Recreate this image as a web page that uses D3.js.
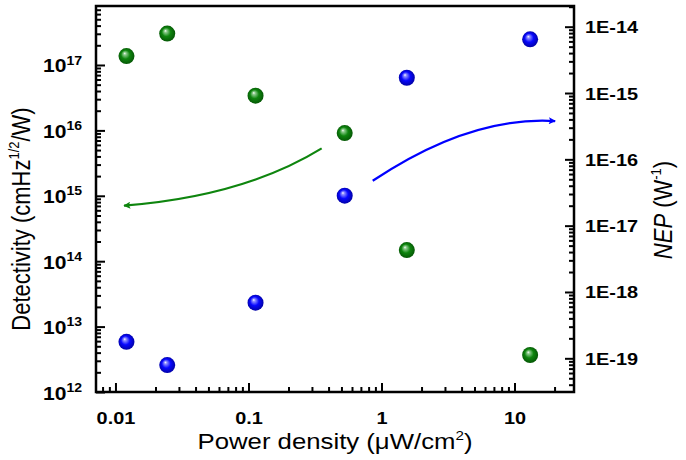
<!DOCTYPE html>
<html>
<head>
<meta charset="utf-8">
<script src="https://cdn.jsdelivr.net/npm/d3@7"></script>
<style>
  html, body { margin: 0; padding: 0; background: #fff; }
  svg { display: block; }
  text { font-family: "Liberation Sans", Arial, sans-serif; fill: #000; }
</style>
</head>
<body>
<script>
// ---------------- data ----------------
const power       = [0.0121, 0.0245, 0.113, 0.529, 1.55, 13.1];          // µW/cm²
const detectivity = [1.37e17, 3.02e17, 3.4e16, 9.1e15, 1.48e14, 3.68e12]; // cmHz^1/2/W
const nep         = [1.77e-19, 7.9e-20, 6.9e-19, 2.83e-17, 1.70e-15, 6.45e-15]; // W^-1

const xTickValues = [0.01, 0.1, 1, 10];
const xTickLabels = ["0.01", "0.1", "1", "10"];
const yLeftTickValues = [1e12, 1e13, 1e14, 1e15, 1e16, 1e17];
const yLeftTickExps   = ["12", "13", "14", "15", "16", "17"];
const yRightTickValues = [1e-19, 1e-18, 1e-17, 1e-16, 1e-15, 1e-14];
const yRightTickLabels = ["1E-19", "1E-18", "1E-17", "1E-16", "1E-15", "1E-14"];

// arrow annotations: start, control, end (data coords)
const greenArrow = [[0.355, 5.3e15], [0.0922, 9.8e14], [0.0116, 7.06e14]];  // left axis
const blueArrow  = [[0.859, 4.75e-17], [4.6, 4.54e-16], [20.2, 3.78e-16]];  // right axis

// ---------------- layout ----------------
const W = 686, H = 460;
const L = 96, R = 574, T = 6, B = 392;
const SX = 1.17; // horizontal glyph stretch of the original image

const x  = d3.scaleLog().domain([0.00714, 28.0]).range([L, R]);
const yL = d3.scaleLog().domain([1e12, Math.pow(10, 17.902)]).range([B, T]);
const yR = d3.scaleLog().domain([Math.pow(10, -19.508), Math.pow(10, -13.688)]).range([B, T]);

const svg = d3.select("body").append("svg").attr("width", W).attr("height", H);

const defs = svg.append("defs");
function sphereGrad(id, light, base, dark) {
  const g = defs.append("radialGradient").attr("id", id)
    .attr("cx", "0.5").attr("cy", "0.5").attr("r", "0.55")
    .attr("fx", "0.38").attr("fy", "0.32");
  g.append("stop").attr("offset", "0%").attr("stop-color", "#ffffff");
  g.append("stop").attr("offset", "15%").attr("stop-color", light);
  g.append("stop").attr("offset", "50%").attr("stop-color", base);
  g.append("stop").attr("offset", "100%").attr("stop-color", dark);
}
sphereGrad("gGreen", "#8fcc8f", "#0e850e", "#045004");
sphereGrad("gBlue", "#9090ff", "#0808ff", "#000098");

function marker(id, color) {
  defs.append("marker").attr("id", id)
    .attr("viewBox", "0 0 10 10").attr("refX", 9).attr("refY", 5)
    .attr("markerUnits", "userSpaceOnUse")
    .attr("markerWidth", 12).attr("markerHeight", 7)
    .attr("orient", "auto")
    .append("path").attr("d", "M0,0 L10,5 L0,10 L2,5 z").attr("fill", color);
}
marker("aGreen", "#0e850e");
marker("aBlue", "#0000ff");

// minor tick values
function minors(domain) {
  const [a, b] = domain;
  const out = [];
  for (let e = Math.floor(Math.log10(a)) - 1; e <= Math.ceil(Math.log10(b)); e++) {
    for (let k = 2; k <= 9; k++) {
      const v = k * Math.pow(10, e);
      if (v >= a && v <= b) out.push(v);
    }
  }
  return out;
}

function styleAxis(g) {
  g.select(".domain").remove();
  g.selectAll(".tick line").attr("stroke", "#000").attr("stroke-width", 2);
}

// ---- bottom axis ----
svg.append("g").attr("transform", `translate(0,${B})`)
  .call(d3.axisBottom(x).tickValues(minors(x.domain())).tickSize(-5).tickFormat(""))
  .call(styleAxis);
const xg = svg.append("g").attr("transform", `translate(0,${B})`)
  .call(d3.axisBottom(x).tickValues(xTickValues).tickSize(-9).tickPadding(0)
        .tickFormat((d, i) => xTickLabels[i]))
  .call(styleAxis);
xg.selectAll(".tick text")
  .attr("y", 32).attr("dy", null)
  .attr("transform", `scale(${SX},1)`)
  .style("font-size", "17px").style("font-weight", "bold")
  .attr("font-family", null);

// ---- left axis ----
svg.append("g").attr("transform", `translate(${L},0)`)
  .call(d3.axisLeft(yL).tickValues(minors(yL.domain())).tickSize(-5).tickFormat(""))
  .call(styleAxis);
const ylg = svg.append("g").attr("transform", `translate(${L},0)`)
  .call(d3.axisLeft(yL).tickValues(yLeftTickValues).tickSize(-9).tickFormat(""))
  .call(styleAxis);
ylg.selectAll(".tick").each(function (d, i) {
  const t = d3.select(this).select("text");
  t.text(null).attr("x", -14 / SX).attr("dy", null).attr("y", 7)
    .attr("text-anchor", "end")
    .attr("transform", `scale(${SX},1)`)
    .attr("font-family", null).attr("font-size", null)
    .style("font-weight", "bold");
  t.append("tspan").style("font-size", "18px").text("10");
  t.append("tspan").style("font-size", "12px").attr("dy", -8).text(yLeftTickExps[i]);
});

// ---- right axis ----
svg.append("g").attr("transform", `translate(${R},0)`)
  .call(d3.axisRight(yR).tickValues(minors(yR.domain())).tickSize(-5).tickFormat(""))
  .call(styleAxis);
const yrg = svg.append("g").attr("transform", `translate(${R},0)`)
  .call(d3.axisRight(yR).tickValues(yRightTickValues).tickSize(-9)
        .tickFormat((d, i) => yRightTickLabels[i]))
  .call(styleAxis);
yrg.selectAll(".tick text")
  .attr("x", 11 / SX).attr("dy", null).attr("y", 6)
  .attr("transform", `scale(${SX},1)`)
  .attr("font-family", null).attr("font-size", null)
  .style("font-size", "17px").style("font-weight", "bold");

// ---- frame ----
svg.append("rect").attr("x", L).attr("y", T).attr("width", R - L).attr("height", B - T)
  .attr("fill", "none").attr("stroke", "#000").attr("stroke-width", 2.5);

// ---- axis titles ----
const xt = svg.append("text")
  .attr("transform", `translate(335,449) scale(${SX},1)`)
  .attr("text-anchor", "middle").style("font-size", "22px");
xt.append("tspan").text("Power density (");
xt.append("tspan").text("\u03bcW/cm");
xt.append("tspan").attr("dy", -9).style("font-size", "13px").text("2");
xt.append("tspan").attr("dy", 9).text(")");

const ylt = svg.append("text")
  .attr("transform", `translate(30,219) rotate(-90) scale(1,${SX})`)
  .attr("text-anchor", "middle").style("font-size", "22px");
ylt.append("tspan").text("Detectivity (cmHz");
ylt.append("tspan").attr("dy", -9).style("font-size", "13px").text("1/2");
ylt.append("tspan").attr("dy", 9).text("/W)");

const yrt = svg.append("text")
  .attr("transform", `translate(672,210) rotate(-90) scale(1,${SX})`)
  .attr("text-anchor", "middle").style("font-size", "22px");
yrt.append("tspan").style("font-style", "italic").text("NEP");
yrt.append("tspan").text(" (W");
yrt.append("tspan").attr("dy", -9).style("font-size", "13px").text("-1");
yrt.append("tspan").attr("dy", 9).text(")");

// ---- arrows ----
function curve(pts, ys) {
  const p = pts.map(d => [x(d[0]), ys(d[1])]);
  return `M${p[0][0]},${p[0][1]} Q${p[1][0]},${p[1][1]} ${p[2][0]},${p[2][1]}`;
}
svg.append("path").attr("d", curve(greenArrow, yL))
  .attr("fill", "none").attr("stroke", "#0e850e").attr("stroke-width", 2.2)
  .attr("marker-end", "url(#aGreen)");
svg.append("path").attr("d", curve(blueArrow, yR))
  .attr("fill", "none").attr("stroke", "#0000ff").attr("stroke-width", 2.2)
  .attr("marker-end", "url(#aBlue)");

// ---- points ----
svg.append("g").selectAll("circle").data(power).join("circle")
  .attr("cx", d => x(d)).attr("cy", (d, i) => yL(detectivity[i]))
  .attr("r", 8).attr("fill", "url(#gGreen)");
svg.append("g").selectAll("circle").data(power).join("circle")
  .attr("cx", d => x(d)).attr("cy", (d, i) => yR(nep[i]))
  .attr("r", 8).attr("fill", "url(#gBlue)");
</script>
</body>
</html>
